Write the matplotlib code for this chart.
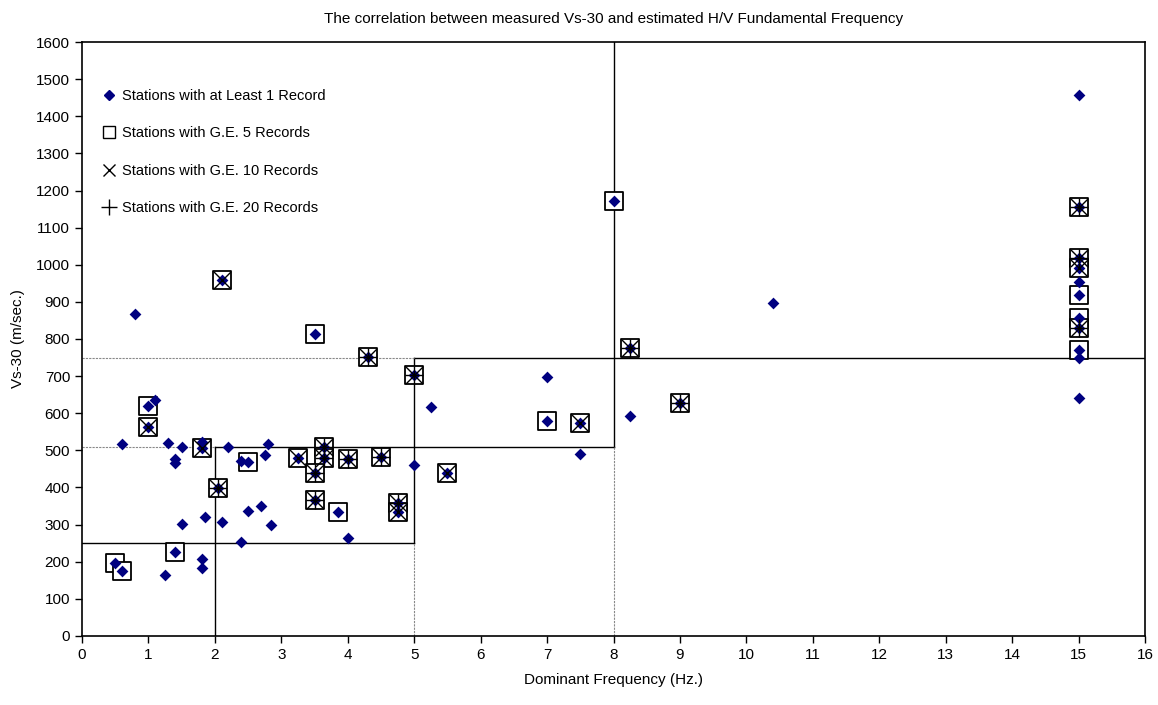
import matplotlib
matplotlib.use('Agg')
import matplotlib.pyplot as plt
from matplotlib.lines import Line2D

plt.rcParams['font.family'] = ['Liberation Sans', 'DejaVu Sans']

# station data: dominant frequency (Hz), Vs-30 (m/s), number of records class
freq = [15, 0.8, 2.1, 3.5, 4.3, 5.0, 5.25, 8.0, 8.25, 8.25, 9.0, 10.4,
        7.0, 7.0, 7.5, 7.5, 5.5, 5.0, 4.75, 4.75, 3.85, 4.0, 4.5, 3.65, 3.65,
        3.25, 3.5, 3.5, 4.0,
        1.1, 1.0, 1.0, 0.6, 1.3, 1.5, 1.8, 1.8, 1.4, 1.4, 2.2, 2.5, 2.4,
        2.8, 2.75, 2.05, 1.5, 1.85, 2.1, 2.5, 2.7, 2.85, 2.4, 1.4, 1.8, 1.8,
        1.25, 0.5, 0.6,
        15, 15, 15, 15, 15, 15, 15, 15, 15, 15]
vs30 = [1458, 867, 958, 813, 752, 703, 617, 1172, 777, 593, 627, 898,
        697, 579, 574, 489, 438, 461, 357, 334, 335, 478, 481, 508, 480,
        479, 439, 367, 264,
        636, 620, 563, 516, 521, 510, 523, 506, 478, 465, 508, 470, 472,
        516, 488, 398, 302, 321, 306, 338, 351, 298, 252, 225, 207, 184,
        163, 196, 176,
        1155, 1017, 990, 954, 918, 857, 830, 770, 748, 640]
records = [1, 1, 10, 5, 20, 20, 1, 5, 20, 1, 20, 1,
           1, 5, 10, 1, 10, 1, 20, 10, 5, 20, 20, 20, 20,
           10, 20, 20, 1,
           1, 5, 10, 1, 1, 1, 1, 10, 1, 1, 1, 5, 1,
           1, 1, 20, 1, 1, 1, 1, 1, 1, 1, 5, 1, 1,
           1, 5, 5,
           20, 20, 10, 1, 5, 5, 20, 5, 1, 1]

# class boundaries (solid and dotted segments)
solid_segs = [((0, 5), (250, 250)), ((2, 2), (0, 510)), ((2, 8), (510, 510)),
              ((5, 5), (250, 750)), ((5, 16), (750, 750)), ((8, 8), (510, 1600))]
dotted_segs = [((0, 2), (510, 510)), ((0, 5), (750, 750)),
               ((5, 5), (0, 250)), ((8, 8), (0, 510))]

fig = plt.figure(figsize=(11.58, 7.05), dpi=100)
ax = fig.add_axes([0.0708, 0.0979, 0.918, 0.8425])

for xs, ys in solid_segs:
    ax.plot(xs, ys, color='black', lw=1.0, zorder=1)
for xs, ys in dotted_segs:
    ax.plot(xs, ys, color='#888888', lw=0.8, ls=(0, (2, 1)), zorder=1)

sq_x = [f for f, r in zip(freq, records) if r >= 5]
sq_y = [v for v, r in zip(vs30, records) if r >= 5]
x_x = [f for f, r in zip(freq, records) if r >= 10]
x_y = [v for v, r in zip(vs30, records) if r >= 10]
p_x = [f for f, r in zip(freq, records) if r >= 20]
p_y = [v for v, r in zip(vs30, records) if r >= 20]

ax.scatter(sq_x, sq_y, marker='s', s=150, facecolors='white',
           edgecolors='black', linewidths=1.3, zorder=2)
ax.scatter(freq, vs30, marker='D', s=36, color='#000080', lw=0, zorder=3)
ax.scatter(x_x, x_y, marker='x', s=150, color='black', linewidths=1.0, zorder=4)
ax.scatter(p_x, p_y, marker='+', s=150, color='black', linewidths=1.0, zorder=5)

ax.set_xlim(0, 16)
ax.set_ylim(0, 1600)
ax.set_xticks(range(0, 17))
ax.set_yticks(range(0, 1700, 100))
ax.tick_params(direction='out', length=5, labelsize=11, width=1)
for s in ax.spines.values():
    s.set_linewidth(1.2)

ax.set_xlabel('Dominant Frequency (Hz.)', fontsize=11, labelpad=8)
ax.set_ylabel('Vs-30 (m/sec.)', fontsize=11, labelpad=8)
ax.set_title('The correlation between measured Vs-30 and estimated H/V Fundamental Frequency',
             fontsize=11, pad=14)

handles = [
    Line2D([], [], marker='D', color='#000080', ls='none', markersize=5),
    Line2D([], [], marker='s', mfc='white', mec='black', ls='none', markersize=9),
    Line2D([], [], marker='x', color='black', ls='none', markersize=9),
    Line2D([], [], marker='+', color='black', ls='none', markersize=11),
]
labels = ['Stations with at Least 1 Record', 'Stations with G.E. 5 Records',
          'Stations with G.E. 10 Records', 'Stations with G.E. 20 Records']
ax.legend(handles, labels, loc='upper left', bbox_to_anchor=(0.008, 0.943),
          frameon=False, fontsize=10.5, handlelength=0.8, handletextpad=0.45,
          labelspacing=1.6)

fig.savefig('out.png', dpi=100)
